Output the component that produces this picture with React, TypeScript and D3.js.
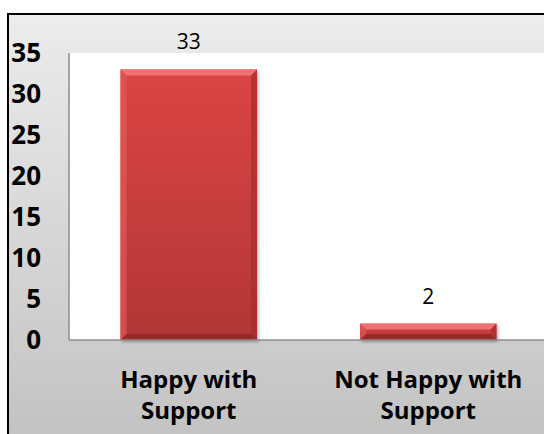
import React from 'react';
import * as d3 from 'd3';

const categories = [['Happy with', 'Support'], ['Not Happy with', 'Support']];
const values = [33, 2];
const yTicks = [0, 5, 10, 15, 20, 25, 30, 35];

const W = 544;
const H = 434;
const frame = { x: 8, y: 14 };
const plot = { left: 69, top: 53, right: 548, bottom: 340 };
const bevel = 6;

const x = d3.scaleBand<number>()
  .domain(values.map((_, i) => i))
  .range([plot.left, plot.right])
  .paddingInner(0.43)
  .paddingOuter(0.215);

const y = d3.scaleLinear().domain([0, 35]).range([plot.bottom, plot.top]);

const font = "'Open Sans', 'DejaVu Sans', sans-serif";

const Bar: React.FC<{ i: number; v: number }> = ({ i, v }) => {
  const x0 = x(i)!;
  const w = x.bandwidth();
  const y0 = y(v);
  const h = y(0) - y0;
  const b = Math.min(bevel, h / 2, w / 2);
  const x1 = x0 + w;
  const y1 = y0 + h;
  return (
    <g filter="url(#shadow)">
      <rect x={x0} y={y0} width={w} height={h} fill="url(#barFill)" />
      {/* bevel edges */}
      <polygon points={`${x0},${y0} ${x1},${y0} ${x1 - b},${y0 + b} ${x0 + b},${y0 + b}`} fill="#f27a7a" opacity={0.85} />
      <polygon points={`${x0},${y0} ${x0 + b},${y0 + b} ${x0 + b},${y1 - b} ${x0},${y1}`} fill="#e05a5a" opacity={0.7} />
      <polygon points={`${x1},${y0} ${x1},${y1} ${x1 - b},${y1 - b} ${x1 - b},${y0 + b}`} fill="#a82c2c" opacity={0.7} />
      <polygon points={`${x0},${y1} ${x0 + b},${y1 - b} ${x1 - b},${y1 - b} ${x1},${y1}`} fill="#8a2424" opacity={0.7} />
    </g>
  );
};

export default function App() {
  return (
    <svg width={W} height={H} style={{ position: 'absolute', left: 0, top: 0 }}>
      <defs>
        <linearGradient id="bg" x1="0" y1="0" x2="0" y2="1">
          <stop offset="0" stopColor="#ececec" />
          <stop offset="1" stopColor="#c2c2c2" />
        </linearGradient>
        <linearGradient id="barFill" x1="0" y1="0" x2="0" y2="1">
          <stop offset="0" stopColor="#dc4545" />
          <stop offset="1" stopColor="#b13636" />
        </linearGradient>
        <filter id="shadow" x="-10%" y="-10%" width="130%" height="130%">
          <feDropShadow dx="1.5" dy="2" stdDeviation="1.5" floodColor="#000" floodOpacity="0.3" />
        </filter>
      </defs>
      <rect x={0} y={0} width={W} height={H} fill="#fff" />
      <rect x={frame.x} y={frame.y} width={W - frame.x + 10} height={H - frame.y + 10} fill="url(#bg)" stroke="#000" strokeWidth={2} />
      <rect x={plot.left} y={plot.top} width={plot.right - plot.left} height={plot.bottom - plot.top} fill="#fff" />
      <line x1={plot.left} x2={plot.left} y1={plot.top} y2={plot.bottom} stroke="#8c8c8c" strokeWidth={1.5} />

      {yTicks.map(t => (
        <text key={t} x={41} y={y(t)} dy="0.36em" textAnchor="end" fontFamily={font} fontWeight="bold" fontSize={26} fill="#000">
          {t}
        </text>
      ))}

      {values.map((v, i) => (
        <Bar key={i} i={i} v={v} />
      ))}

      <line x1={plot.left} x2={plot.right} y1={plot.bottom} y2={plot.bottom} stroke="#8c8c8c" strokeWidth={1.5} />

      {values.map((v, i) => (
        <text key={i} x={x(i)! + x.bandwidth() / 2} y={y(v) - 20} textAnchor="middle" fontFamily={font} fontSize={21} fill="#000">
          {v}
        </text>
      ))}

      {categories.map((lines, i) => (
        <text key={i} textAnchor="middle" fontFamily={font} fontWeight="bold" fontSize={24} fill="#000">
          {lines.map((l, j) => (
            <tspan key={j} x={x(i)! + x.bandwidth() / 2} y={388 + j * 31}>{l}</tspan>
          ))}
        </text>
      ))}
    </svg>
  );
}
